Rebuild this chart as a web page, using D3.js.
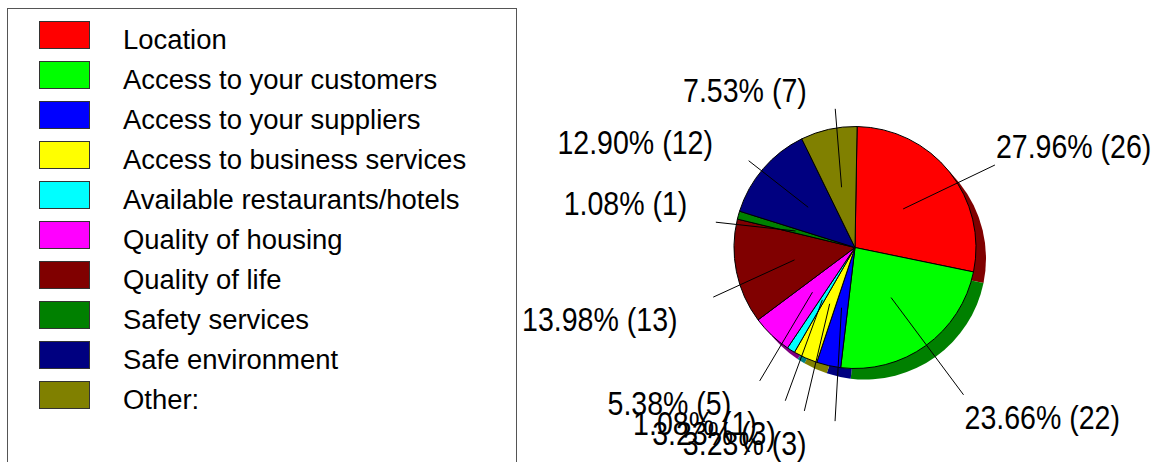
<!DOCTYPE html>
<html>
<head>
<meta charset="utf-8">
<script src="https://cdn.jsdelivr.net/npm/d3@7"></script>
<style>
  html, body { margin: 0; padding: 0; background: #fff; }
  svg { display: block; }
  text { font-family: "Liberation Sans", Arial, sans-serif; fill: #000; }
</style>
</head>
<body>
<script>
// Survey answers: reasons for the business location
const categories = [
  "Location",
  "Access to your customers",
  "Access to your suppliers",
  "Access to business services",
  "Available restaurants/hotels",
  "Quality of housing",
  "Quality of life",
  "Safety services",
  "Safe environment",
  "Other:"
];
const counts = [26, 22, 3, 3, 1, 5, 13, 1, 12, 7];
const sliceColors = [
  "#ff0000", "#00ff00", "#0000ff", "#ffff00", "#00ffff",
  "#ff00ff", "#800000", "#008000", "#000080", "#808000"
];

const W = 1158, H = 462;
const svg = d3.select("body").append("svg")
  .attr("width", W).attr("height", H);

// ---------- legend ----------
const legend = svg.append("g");
legend.append("rect")
  .attr("x", 7.5).attr("y", 8.5)
  .attr("width", 509).attr("height", 470)
  .attr("fill", "#fff").attr("stroke", "#555").attr("stroke-width", 1);

const rowY = d3.scaleBand().domain(d3.range(categories.length))
  .range([21, 21 + 40 * categories.length]).paddingInner(0);

const rows = legend.selectAll("g.row").data(categories).join("g")
  .attr("class", "row")
  .attr("transform", (d, i) => `translate(0,${rowY(i)})`);

rows.append("rect")
  .attr("x", 39.5).attr("y", 0.5)
  .attr("width", 50).attr("height", 27)
  .attr("fill", (d, i) => sliceColors[i])
  .attr("stroke", "#333").attr("stroke-width", 1);

rows.append("g").attr("transform", "translate(123,27.5)")
  .append("text")
  .attr("transform", "scale(0.98,1)")
  .attr("font-size", 28)
  .text(d => d);

// ---------- pie ----------
const cx = 855, cy = 247.5, r = 121;
const shadowDx = 10, shadowDy = 11;
const total = d3.sum(counts);
const startAngle = 1 * Math.PI / 180;

const pie = d3.pie().sort(null)
  .startAngle(startAngle).endAngle(startAngle + 2 * Math.PI);
const arcs = pie(counts);
const arc = d3.arc().innerRadius(0).outerRadius(r);

const halfTone = c => {
  const k = d3.rgb(c);
  return d3.rgb(k.r / 2, k.g / 2, k.b / 2).formatHex();
};

// dropped shadow (darker copy of the pie, offset down-right)
svg.append("g")
  .attr("transform", `translate(${cx + shadowDx},${cy + shadowDy})`)
  .selectAll("path").data(arcs).join("path")
  .attr("d", arc)
  .attr("fill", (d, i) => halfTone(sliceColors[i]));

svg.append("g")
  .attr("transform", `translate(${cx},${cy})`)
  .selectAll("path").data(arcs).join("path")
  .attr("d", arc)
  .attr("fill", (d, i) => sliceColors[i])
  .attr("stroke", "#000").attr("stroke-width", 1)
  .attr("stroke-linejoin", "round");

// ---------- leader lines and value labels ----------
const innerR = r * 0.51, outerR = 160;
const outerDx = 15, outerDy = 17.5;
const labelSize = 33, labelScale = 0.865;

const labels = svg.append("g");
arcs.forEach((a, i) => {
  const mid = (a.startAngle + a.endAngle) / 2;
  const ux = Math.sin(mid), uy = -Math.cos(mid);
  const x0 = cx + innerR * ux, y0 = cy + innerR * uy;
  const x1 = cx + outerDx + outerR * ux, y1 = cy + outerDy + outerR * uy;

  labels.append("line")
    .attr("x1", x0).attr("y1", y0).attr("x2", x1).attr("y2", y1)
    .attr("stroke", "#000").attr("stroke-width", 1);

  const pct = (counts[i] / total * 100).toFixed(2);
  const g = labels.append("g");
  const t = g.append("text")
    .attr("transform", `scale(${labelScale},1)`)
    .attr("font-size", labelSize)
    .text(`${pct}% (${counts[i]})`);
  const w = t.node().getComputedTextLength() * labelScale;

  const tx = ux > 0 ? x1 + 1 : x1 - 1.23 * w;
  const ty = uy < 0 ? y1 - 7 : y1 + 34;
  g.attr("transform", `translate(${tx},${ty})`);
});
</script>
</body>
</html>
